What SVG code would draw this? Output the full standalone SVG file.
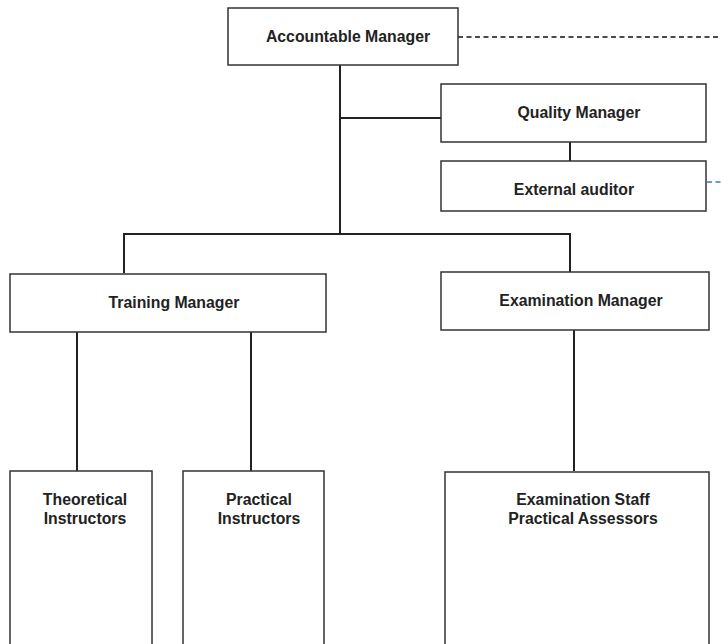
<svg xmlns="http://www.w3.org/2000/svg" width="721" height="644" viewBox="0 0 721 644">
<style>
.box{fill:#fff;stroke:#333;stroke-width:1.5}
.t{font-family:"Liberation Sans",Arial,sans-serif;font-weight:bold;font-size:15.8px;fill:#222;text-anchor:middle}
.c{fill:none;stroke:#222;stroke-width:2}
</style>
<rect width="721" height="644" fill="#fff"/>
<g id="connectors">
<path class="c" d="M340 65V234M340 118H441M570 142V161M124 273V234H570V273M77 332V471M251 332V471M574 330V471"/>
<path d="M458 37H721" fill="none" stroke="#111" stroke-width="1.5" stroke-dasharray="5,3.5"/>
<path d="M707 182H721" fill="none" stroke="#2f78d6" stroke-width="1.5" stroke-dasharray="5,3.5"/>
</g>
<g id="accountable"><rect class="box" x="228" y="8" width="230" height="57"/><text class="t" x="348" y="42">Accountable Manager</text></g>
<g id="quality"><rect class="box" x="441" y="84" width="265" height="58"/><text class="t" x="579" y="118">Quality Manager</text></g>
<g id="auditor"><rect class="box" x="441" y="161" width="265" height="50"/><text class="t" x="574" y="195">External auditor</text></g>
<g id="training"><rect class="box" x="10" y="274" width="316" height="58"/><text class="t" x="174" y="308">Training Manager</text></g>
<g id="examination"><rect class="box" x="441" y="272" width="268" height="58"/><text class="t" x="581" y="306">Examination Manager</text></g>
<g id="theoretical"><rect class="box" x="10" y="471" width="142" height="180"/><text class="t" x="85" y="505">Theoretical</text><text class="t" x="85" y="524">Instructors</text></g>
<g id="practical"><rect class="box" x="183" y="471" width="141" height="180"/><text class="t" x="259" y="505">Practical</text><text class="t" x="259" y="524">Instructors</text></g>
<g id="staff"><rect class="box" x="445" y="472" width="264" height="180"/><text class="t" x="583" y="505">Examination Staff</text><text class="t" x="583" y="524">Practical Assessors</text></g>
</svg>
